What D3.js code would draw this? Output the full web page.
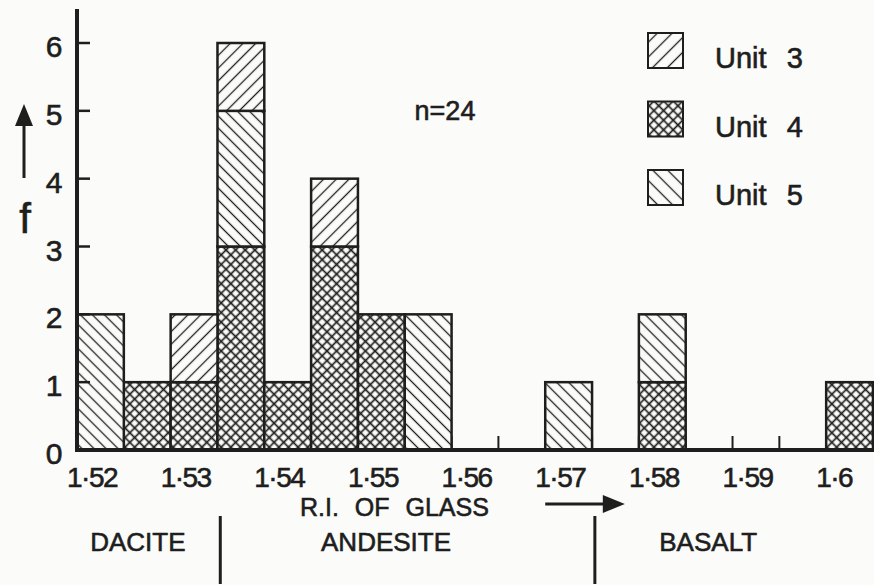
<!DOCTYPE html>
<html><head><meta charset="utf-8">
<script src="https://cdn.jsdelivr.net/npm/d3@7/dist/d3.min.js"></script>
<style>
html,body{margin:0;padding:0;background:#fbfbf9;}
svg{display:block;}
text{font-family:"Liberation Sans",Arial,sans-serif;fill:#1e1e1e;stroke:#1e1e1e;stroke-width:0.6px;}
</style></head>
<body>
<svg id="chart" width="874" height="585"></svg>
<script>
// ---- data ----
const binStarts = [1.520,1.525,1.530,1.535,1.540,1.545,1.550,1.555,1.560,1.565,1.570,1.575,1.580,1.585,1.590,1.595,1.600];
const binWidth = 0.005;
const unit4 = [0,1,1,3,1,3,2,0,0,0,0,0,1,0,0,0,1];
const unit5 = [2,0,0,2,0,0,0,2,0,0,1,0,1,0,0,0,0];
const unit3 = [0,0,1,1,0,1,0,0,0,0,0,0,0,0,0,0,0];
const seriesKeys = ["unit4","unit5","unit3"];          // stacking order, bottom to top
const legendKeys = ["unit3","unit4","unit5"];
const legendLabels = ["Unit 3","Unit 4","Unit 5"];
const xTickValues = [1.52,1.53,1.54,1.55,1.56,1.57,1.58,1.59,1.60];
const xTickLabels = ["1·52","1·53","1·54","1·55","1·56","1·57","1·58","1·59","1·6"];
const yTickValues = [0,1,2,3,4,5,6];
const rockBoundaries = [1.5353,1.5753];
const rockNames = ["DACITE","ANDESITE","BASALT"];
const rockCenters = [1.5265,1.5530,1.5874];
const nLabel = "n=24";
const xTitle = "R.I. OF GLASS";
const yTitle = "f";

// ---- scales ----
const svg = d3.select("#chart");
const x = d3.scaleLinear().domain([1.52,1.605]).range([77,873]);
const y = d3.scaleLinear().domain([0,6]).range([450,43]);
const ink = "#1e1e1e";

const table = binStarts.map((b,i)=>({bin:b, unit4:unit4[i], unit5:unit5[i], unit3:unit3[i]}));
const stacked = d3.stack().keys(seriesKeys)(table);

// ---- patterns ----
const defs = svg.append("defs");
function hatch(id, d, angle, sw, cross){
  const p = defs.append("pattern").attr("id",id).attr("patternUnits","userSpaceOnUse")
    .attr("width",d).attr("height",d).attr("patternTransform",`rotate(${angle})`);
  p.append("rect").attr("width",d).attr("height",d).attr("fill","#fbfbf9");
  p.append("line").attr("x1",d/2).attr("y1",0).attr("x2",d/2).attr("y2",d).attr("stroke",ink).attr("stroke-width",sw);
  if(cross) p.append("line").attr("x1",0).attr("y1",d/2).attr("x2",d).attr("y2",d/2).attr("stroke",ink).attr("stroke-width",sw);
}
hatch("p-unit3", 9, 45, 1.3, false);
hatch("p-unit5", 8.5, -45, 1.3, false);
hatch("p-unit4", 6.8, 45, 1.7, true);
hatch("l-unit3", 10.5, 45, 1.3, false);
hatch("l-unit5", 10.5, -45, 1.3, false);
hatch("l-unit4", 6.8, 45, 1.7, true);

// ---- bin boundary ticks ----
const edges = binStarts.concat([1.605]);
svg.append("g").selectAll("line").data(edges).join("line")
  .attr("x1",d=>x(d)).attr("x2",d=>x(d)).attr("y1",y(0)).attr("y2",y(0)-14)
  .attr("stroke",ink).attr("stroke-width",2);

// ---- bars ----
const gBars = svg.append("g");
stacked.forEach(layer=>{
  gBars.append("g").selectAll("rect").data(layer.filter(d=>d[1]>d[0])).join("rect")
    .attr("x",d=>x(d.data.bin)).attr("width",d=>x(d.data.bin+binWidth)-x(d.data.bin))
    .attr("y",d=>y(d[1])).attr("height",d=>y(d[0])-y(d[1]))
    .attr("fill",`url(#p-${layer.key})`).attr("stroke",ink).attr("stroke-width",2.5);
});

// ---- axes ----
svg.append("line").attr("x1",x(1.52)).attr("x2",874).attr("y1",y(0)).attr("y2",y(0))
  .attr("stroke",ink).attr("stroke-width",4);
svg.append("line").attr("x1",x(1.52)).attr("x2",x(1.52)).attr("y1",y(0)+2).attr("y2",y(6.5))
  .attr("stroke",ink).attr("stroke-width",4);
const yAxis = svg.append("g");
yAxis.selectAll("line").data(yTickValues.filter(v=>v>0)).join("line")
  .attr("x1",x(1.52)).attr("x2",x(1.52)+13).attr("y1",d=>y(d)).attr("y2",d=>y(d))
  .attr("stroke",ink).attr("stroke-width",2.5);
yAxis.selectAll("text").data(yTickValues).join("text")
  .attr("x",54).attr("y",d=>y(d)+14).attr("text-anchor","middle")
  .attr("font-size",30).text(d=>d);

svg.append("g").selectAll("text").data(xTickValues).join("text")
  .attr("x",(d)=>x(d)-10).attr("y",487).attr("font-size",28).attr("letter-spacing",-1.5)
  .text((d,i)=>xTickLabels[i]);

// y title with arrow
svg.append("text").attr("x",25).attr("y",233).attr("text-anchor","middle").attr("font-size",42).text(yTitle);
svg.append("line").attr("x1",24).attr("x2",24).attr("y1",178).attr("y2",118).attr("stroke",ink).attr("stroke-width",3);
svg.append("path").attr("d","M24,104 L15,126 L33,126 Z").attr("fill",ink);

// n label
svg.append("text").attr("x",445).attr("y",120).attr("text-anchor","middle").attr("font-size",27).text(nLabel);

// legend
const lg = svg.append("g");
legendKeys.forEach((k,i)=>{
  const yy = 33 + i*68.5;
  lg.append("rect").attr("x",648).attr("y",yy).attr("width",35).attr("height",35)
    .attr("fill",`url(#l-${k})`).attr("stroke",ink).attr("stroke-width",2);
  lg.append("text").attr("x",715).attr("y",yy+35).attr("font-size",29).attr("word-spacing",12).text(legendLabels[i]);
});

// x title and arrow
svg.append("text").attr("x",300).attr("y",516).attr("font-size",25).attr("word-spacing",9).text(xTitle);
svg.append("line").attr("x1",x(1.570)).attr("x2",x(1.5775)).attr("y1",504).attr("y2",504).attr("stroke",ink).attr("stroke-width",3);
svg.append("path").attr("d",`M${x(1.5785)},504 L${x(1.5785)-22},495 L${x(1.5785)-22},513 Z`).attr("fill",ink);

// rock type zones
svg.append("g").selectAll("line").data(rockBoundaries).join("line")
  .attr("x1",d=>x(d)).attr("x2",d=>x(d)).attr("y1",516).attr("y2",584)
  .attr("stroke",ink).attr("stroke-width",3);
svg.append("g").selectAll("text").data(rockNames).join("text")
  .attr("x",(d,i)=>x(rockCenters[i])).attr("y",551).attr("text-anchor","middle")
  .attr("font-size",26).text(d=>d);
</script>
</body></html>
